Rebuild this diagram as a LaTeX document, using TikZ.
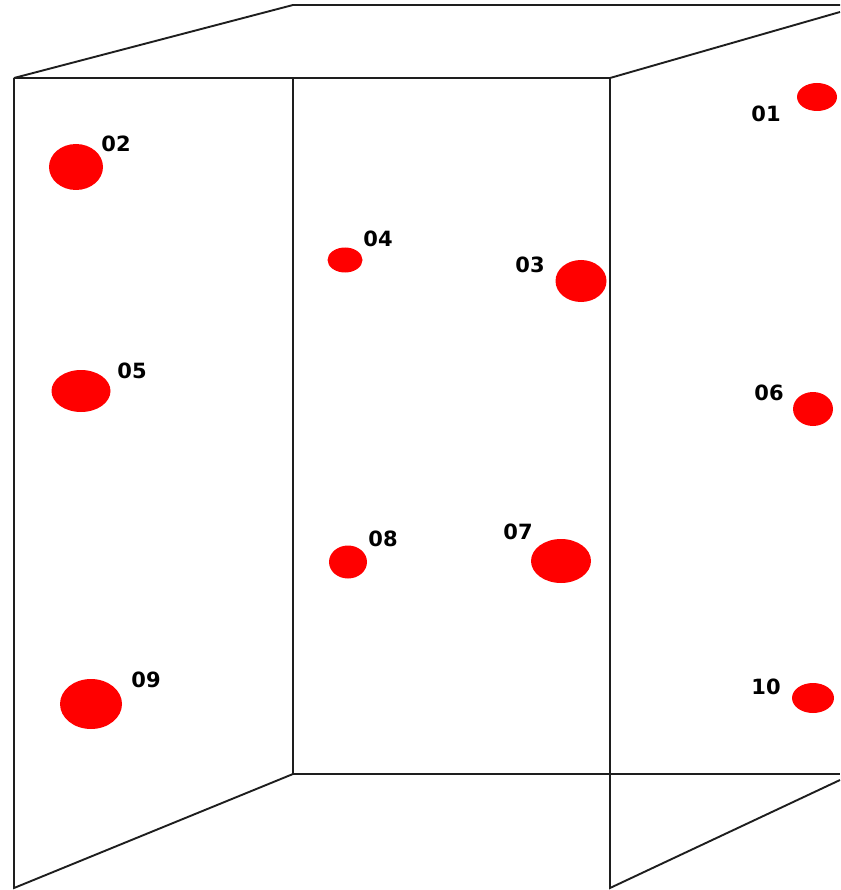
\documentclass[tikz,border=0pt]{standalone}
\usepackage{fontspec}
\setsansfont{DejaVu Sans}
\usepackage{tikz}
\usetikzlibrary{shapes.geometric}
\definecolor{DotRed}{RGB}{255,0,0}
\definecolor{EdgeGray}{RGB}{30,30,30}

\begin{document}
\begin{tikzpicture}[
  x=1pt, y=-1pt,
  edge/.style={draw=EdgeGray, line width=1.9pt, line join=miter},
  dot/.style={ellipse, fill=DotRed, draw=none, inner sep=0pt},
  lab/.style={font=\sffamily\bfseries\fontsize{21}{21}\selectfont, inner sep=0pt, text=black},
]
  \useasboundingbox (0,0) rectangle (840,890);

  % -------- box corners --------
  \coordinate (ftl) at (14,78);
  \coordinate (ftr) at (610,78);
  \coordinate (btl) at (293,5);
  \coordinate (btr) at (840,5);
  \coordinate (rtr) at (840,12);
  \coordinate (mtl) at (293,78);
  \coordinate (mbl) at (293,774);
  \coordinate (bbr) at (840,774);
  \coordinate (fbl) at (14,888);
  \coordinate (fbr) at (610,888);
  \coordinate (rbr) at (840,780);

  % -------- box edges --------
  \draw[edge] (ftl) -- (btl) -- (btr);
  \draw[edge] (ftl) -- (ftr) -- (rtr);
  \draw[edge] (ftl) -- (fbl) -- (mbl) -- (mtl);
  \draw[edge] (mbl) -- (bbr);
  \draw[edge] (ftr) -- (fbr) -- (rbr);

  % -------- points and their numbers --------
  \foreach \n/\x/\y/\w/\h/\lx/\ly in {
      01/817/97/40/28/766/114,
      02/76/167/54/46/116/144,
      03/581/281/51/42/530/265,
      04/345/260/35/25/378/239,
      05/81/391/59/42/132/371,
      06/813/409/40/34/769/393,
      07/561/561/60/44/518/532,
      08/348/562/38/33/383/539,
      09/91/704/62/50/146/680,
      10/813/698/42/30/766/687}{
    \node[dot, minimum width=\w pt, minimum height=\h pt] (d\n) at (\x,\y) {};
    \node[lab] (l\n) at (\lx,\ly) {\n};
  }
\end{tikzpicture}
\end{document}
